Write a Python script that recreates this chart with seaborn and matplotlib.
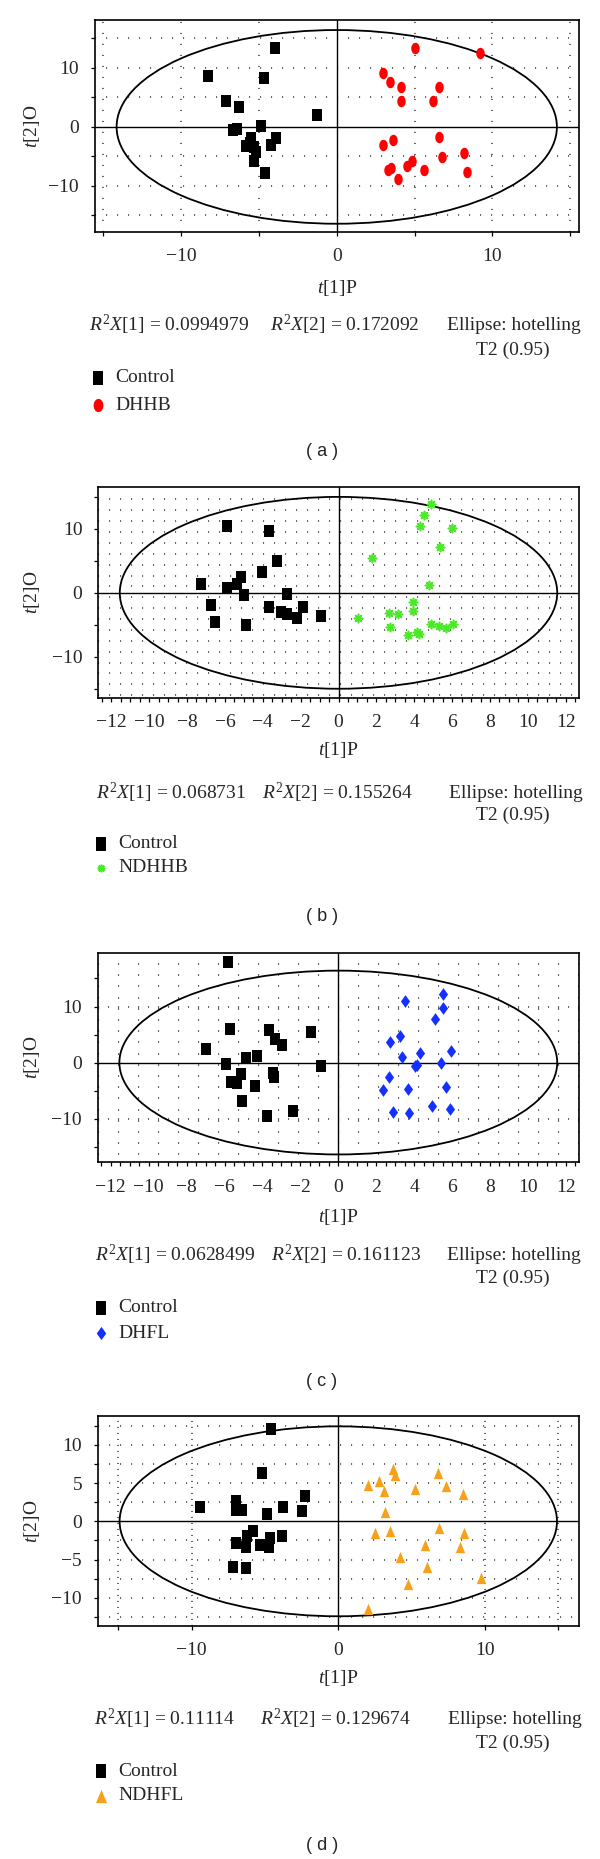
import numpy as np
import pandas as pd
import matplotlib
matplotlib.use("Agg")
import matplotlib.pyplot as plt
import seaborn as sns
from matplotlib.patches import Ellipse
from matplotlib.lines import Line2D

# ---------------- data ----------------
# Panel (a): Control vs DHHB
ctrl_a_x = [-4.0, -8.3, -4.7, -7.1, -6.3, -1.3, -6.7, -6.4, -4.9, -5.5, -3.9, -5.85, -5.3, -4.2, -5.6, -5.2, -5.3, -4.6]
ctrl_a_y = [13.4, 8.7, 8.3, 4.3, 3.3, 2.0, -0.6, -0.3, 0.2, -1.8, -1.9, -3.2, -3.4, -3.0, -2.7, -4.2, -5.8, -7.8]
dhhb_x = [5.0, 9.2, 3.0, 3.4, 4.1, 6.6, 4.1, 6.2, 6.6, 3.6, 2.95, 8.2, 6.75, 4.85, 4.5, 3.5, 3.3, 5.6, 8.35, 3.95]
dhhb_y = [13.4, 12.5, 9.2, 7.6, 6.8, 6.8, 4.35, 4.35, -1.7, -2.15, -3.0, -4.35, -5.1, -5.8, -6.7, -6.95, -7.3, -7.3, -7.7, -8.9]

# Panel (b): Control vs NDHHB
ctrl_b_x = [-5.9, -3.65, -3.25, -4.05, -7.25, -5.15, -5.35, -5.9, -5.0, -2.7, -6.75, -3.65, -3.05, -2.7, -1.85, -2.2, -0.95, -6.5, -4.9]
ctrl_b_y = [10.5, 9.6, 5.0, 3.2, 1.35, 2.5, 1.45, 0.7, -0.35, -0.25, -1.9, -2.2, -3.0, -3.3, -2.2, -4.0, -3.6, -4.5, -5.0]
ndhhb_x = [4.86, 4.53, 4.31, 5.99, 5.38, 1.78, 4.78, 3.91, 3.91, 2.67, 3.14, 1.05, 4.88, 5.32, 5.69, 6.07, 2.73, 3.66, 4.17, 4.23]
ndhhb_y = [13.9, 12.1, 10.5, 10.2, 7.1, 5.4, 1.3, -1.5, -2.9, -3.1, -3.3, -4.0, -4.8, -5.2, -5.5, -4.8, -5.3, -6.6, -6.1, -6.4]

# Panel (c): Control vs DHFL
ctrl_c_x = [-5.81, -5.69, -3.66, -1.44, -3.34, -2.98, -6.96, -4.31, -4.88, -5.95, -0.89, -5.16, -3.46, -3.4, -5.65, -5.34, -4.37, -5.06, -2.39, -3.74]
ctrl_c_y = [17.9, 6.0, 5.8, 5.4, 4.2, 3.2, 2.4, 1.2, 0.8, -0.24, -0.6, -2.0, -1.9, -2.5, -3.4, -3.6, -4.1, -6.8, -8.7, -9.5]
dhfl_x = [5.55, 3.52, 5.55, 5.08, 3.26, 2.73, 5.95, 4.31, 3.34, 5.43, 4.17, 4.03, 2.65, 2.35, 3.68, 5.69, 4.94, 5.89, 2.91, 3.72]
dhfl_y = [12.3, 11.0, 9.7, 7.8, 4.8, 3.6, 2.1, 1.7, 1.07, 0.0, -0.4, -0.7, -2.5, -4.9, -4.7, -4.3, -7.7, -8.3, -8.9, -9.05]

# Panel (d): Control vs NDHFL
ctrl_d_x = [-4.6, -5.17, -9.4, -7.0, -7.0, -6.58, -3.76, -2.25, -2.45, -4.86, -5.8, -6.21, -6.95, -6.27, -5.35, -4.65, -4.73, -3.84, -7.15, -6.32]
ctrl_d_y = [12.0, 6.26, 1.9, 2.7, 1.5, 1.5, 1.87, 3.3, 1.4, 0.9, -1.3, -1.87, -2.87, -3.3, -3.1, -2.2, -3.4, -1.9, -6.0, -6.1]
ndhfl_x = [3.76, 3.89, 6.76, 2.04, 2.74, 3.13, 5.25, 7.36, 8.51, 3.16, 2.53, 3.55, 6.89, 8.59, 5.9, 8.3, 4.2, 6.03, 9.69, 4.73, 2.04]
ndhfl_y = [6.8, 6.1, 6.26, 4.74, 5.3, 4.0, 4.17, 4.6, 3.57, 1.26, -1.48, -1.26, -0.9, -1.48, -3.1, -3.3, -4.7, -6.0, -7.35, -8.17, -11.5]

# Hotelling T2 ellipse semi-axes per panel
ellipse_a = [14.15, 11.55, 11.55, 14.9]
ellipse_b = [16.4, 15.0, 16.4, 12.4]

treat_names = ["DHHB", "NDHHB", "DHFL", "NDHFL"]
panel_tags = ["( a )", "( b )", "( c )", "( d )"]
r2x1 = ["0.0994979", "0.068731", "0.0628499", "0.11114"]
r2x2 = ["0.172092", "0.155264", "0.161123", "0.129674"]

# ---------------- style ----------------
sns.set_theme(style="white")
plt.rcParams['font.family'] = ['Liberation Serif', 'DejaVu Serif']
plt.rcParams['mathtext.fontset'] = 'custom'
plt.rcParams['mathtext.rm'] = 'Liberation Serif'
plt.rcParams['mathtext.it'] = 'Liberation Serif:italic'
plt.rcParams['lines.scale_dashes'] = False

W, H = 600, 1859
fig = plt.figure(figsize=(6, 18.59), dpi=100)


def fx(px):
    return px / W


def fy(py):
    return 1 - py / H


rect_m = [(-0.4, -0.5), (0.4, -0.5), (0.4, 0.5), (-0.4, 0.5), (-0.4, -0.5)]
_t = np.linspace(0, 2 * np.pi, 40)
oval_m = list(zip(0.37 * np.cos(_t), 0.5 * np.sin(_t)))
diam_m = [(0, -0.5), (0.36, 0), (0, 0.5), (-0.36, 0), (0, -0.5)]
tri_m = [(-0.42, -0.5), (0.42, -0.5), (0, 0.5), (-0.42, -0.5)]
ast_m = (8, 2, 0)

treat_style = [
    dict(color="#ff0000", marker=oval_m, s=68),
    dict(color="#4be82a", marker=ast_m, s=34),
    dict(color="#1430ff", marker=diam_m, s=84),
    dict(color="#f7a01a", marker=tri_m, s=66),
]

ctrl_xs = [ctrl_a_x, ctrl_b_x, ctrl_c_x, ctrl_d_x]
ctrl_ys = [ctrl_a_y, ctrl_b_y, ctrl_c_y, ctrl_d_y]
tr_xs = [dhhb_x, ndhhb_x, dhfl_x, ndhfl_x]
tr_ys = [dhhb_y, ndhhb_y, dhfl_y, ndhfl_y]

# layout (pixel positions, y from top)
boxes = [(94.5, 20, 579, 232), (98, 487.3, 579, 697.7), (97.6, 952.7, 579, 1162.3), (97.6, 1416, 579, 1626)]
xlims = [(-15.57, 15.57), (-12.7, 12.7), (-12.7, 12.7), (-16.4, 16.4)]
ylims = [(-17.8, 18.1), (-16.4, 16.5), (-17.8, 19.6), (-13.67, 13.75)]
text_y = [  # xlabel, stats1, stats2, leg1, leg2, caption
    (288, 325, 350, 378, 405, 452),
    (750, 793, 815, 844, 868, 916),
    (1217, 1255, 1278, 1308, 1333, 1382),
    (1678, 1719, 1743, 1771, 1796, 1845),
]
stat_x = [(89, 270, 447), (95.7, 262, 449), (95, 271, 447), (94.5, 260, 448)]
leg_x = [(97.6, 115), (101, 118.6), (101, 118.6), (101, 118.6)]

FS = 14
DOT = '#3a3a3a'


def dotted_h(ax, ys, spacing_px, lw=1.1):
    on = 0.8
    off = spacing_px * 0.72 - on
    for y in ys:
        ax.axhline(y, color=DOT, lw=lw, ls=(0, (on, off)), zorder=1)


def dotted_v(ax, xs, spacing_px, lw=1.1):
    on = 0.8
    off = spacing_px * 0.72 - on
    for x in xs:
        ax.axvline(x, color=DOT, lw=lw, ls=(0, (on, off)), zorder=1)


def minus(v):
    s = ("%g" % v)
    return s.replace("-", "\u2212")


for i in range(4):
    L, T, R, B = boxes[i]
    ax = fig.add_axes([fx(L), fy(B), fx(R) - fx(L), (B - T) / H])
    ax.set_xlim(*xlims[i])
    ax.set_ylim(*ylims[i])

    # background dotted lattice
    if i == 0:
        dotted_h(ax, [-15, -10, -5, 5, 10, 15], 11)
        dotted_v(ax, [-15, -10, -5, 5, 10, 15], 11)
    elif i == 1:
        dotted_h(ax, np.arange(-16.0, 16.0, 1.7), 11)
    elif i == 2:
        dotted_h(ax, np.arange(-16.4, 18.0, 2.0), 20)
        dotted_h(ax, [-10, 10], 10)
    else:
        dotted_h(ax, [-12.5, -10, -7.5, -5, -2.5, 2.5, 5, 7.5, 10, 12.5], 11)
        dotted_v(ax, [-15, -10, 10, 15], 6)

    ax.axhline(0, color='black', lw=1.0, zorder=2)
    ax.axvline(0, color='black', lw=1.0, zorder=2)
    ax.add_patch(Ellipse((0, 0), 2 * ellipse_a[i], 2 * ellipse_b[i], fill=False,
                         ec='black', lw=1.3, zorder=2))

    df_c = pd.DataFrame({"x": ctrl_xs[i], "y": ctrl_ys[i]})
    df_t = pd.DataFrame({"x": tr_xs[i], "y": tr_ys[i]})
    sns.scatterplot(data=df_c, x="x", y="y", ax=ax, color="black", marker=rect_m,
                    s=84, linewidth=0, zorder=3)
    st = treat_style[i]
    if i == 1:
        sns.scatterplot(data=df_t, x="x", y="y", ax=ax, color=st["color"], marker=st["marker"],
                        s=st["s"], linewidth=1.2, zorder=3)
    else:
        sns.scatterplot(data=df_t, x="x", y="y", ax=ax, color=st["color"], marker=st["marker"],
                        s=st["s"], linewidth=0, zorder=3)

    # ticks
    if i == 0:
        xt = [-15, -10, -5, 0, 5, 10, 15]
        xl = ["", minus(-10), "", "0", "", "10", ""]
        yt = [-15, -10, -5, 0, 5, 10, 15]
        yl = ["", minus(-10), "", "0", "", "10", ""]
    elif i in (1, 2):
        xt = list(range(-12, 13, 2))
        xl = [minus(v) for v in xt]
        yt = [-15, -10, -5, 0, 5, 10, 15]
        yl = ["", minus(-10), "", "0", "", "10", ""]
        ax.set_xticks(np.arange(-12.5, 12.6, 0.5), minor=True)
    else:
        xt = [-15, -10, 0, 10, 15]
        xl = ["", minus(-10), "0", "10", ""]
        yt = [-12.5, -10, -7.5, -5, -2.5, 0, 2.5, 5, 7.5, 10, 12.5]
        yl = ["", minus(-10), "", minus(-5), "", "0", "", "5", "", "10", ""]
    ax.set_xticks(xt)
    ax.set_xticklabels(xl)
    ax.set_yticks(yt)
    ax.set_yticklabels(yl)
    ax.tick_params(axis='both', which='both', direction='out', length=3.2, width=0.9,
                   color='black', labelsize=14, bottom=True, left=True)
    ax.tick_params(axis='x', which='major', pad=8.5)
    ax.tick_params(axis='y', which='major', pad=8)
    ax.set_xlabel("")
    ax.set_ylabel("")
    for sp in ax.spines.values():
        sp.set_visible(True)
        sp.set_color('black')
        sp.set_linewidth(1.2)
    ax.grid(False)

    # axis titles
    xl_y, s1_y, s2_y, l1_y, l2_y, cap_y = text_y[i]
    fig.text(fx((L + R) / 2), fy(xl_y), r"$t$[1]P", ha='center', va='center', fontsize=FS)
    fig.text(fx(32.5), fy((T + B) / 2), r"$t$[2]O", ha='center', va='center', rotation=90,
             fontsize=FS)

    # statistics line
    sx1, sx2, sx3 = stat_x[i]
    fig.text(fx(sx1), fy(s1_y), r"$R^2X$[1] = " + r2x1[i], ha='left', va='center', fontsize=FS)
    fig.text(fx(sx2), fy(s1_y), r"$R^2X$[2] = " + r2x2[i], ha='left', va='center', fontsize=FS)
    fig.text(fx(sx3), fy(s1_y), "Ellipse: hotelling", ha='left', va='center', fontsize=FS)
    fig.text(fx(513), fy(s2_y), "T2 (0.95)", ha='center', va='center', fontsize=FS)

    # legend keys
    mx, tx = leg_x[i]
    fig.add_artist(Line2D([fx(mx)], [fy(l1_y)], transform=fig.transFigure, marker=rect_m,
                          ls='none', color='black', markersize=9.5, mew=0))
    mk = st["marker"]
    if i == 1:
        fig.add_artist(Line2D([fx(mx)], [fy(l2_y)], transform=fig.transFigure, marker=mk,
                              ls='none', color=st["color"], markersize=5.5, mew=1.2))
    else:
        fig.add_artist(Line2D([fx(mx)], [fy(l2_y)], transform=fig.transFigure, marker=mk,
                              ls='none', color=st["color"], markersize=9.5, mew=0))
    fig.text(fx(tx), fy(l1_y), "Control", ha='left', va='center', fontsize=FS)
    fig.text(fx(tx), fy(l2_y), treat_names[i], ha='left', va='center', fontsize=FS)

    fig.text(fx(322), fy(cap_y), panel_tags[i], ha='center', va='center', fontsize=13,
             family=['Liberation Sans', 'DejaVu Sans'])

fig.savefig("out.png", dpi=100, facecolor='white')
